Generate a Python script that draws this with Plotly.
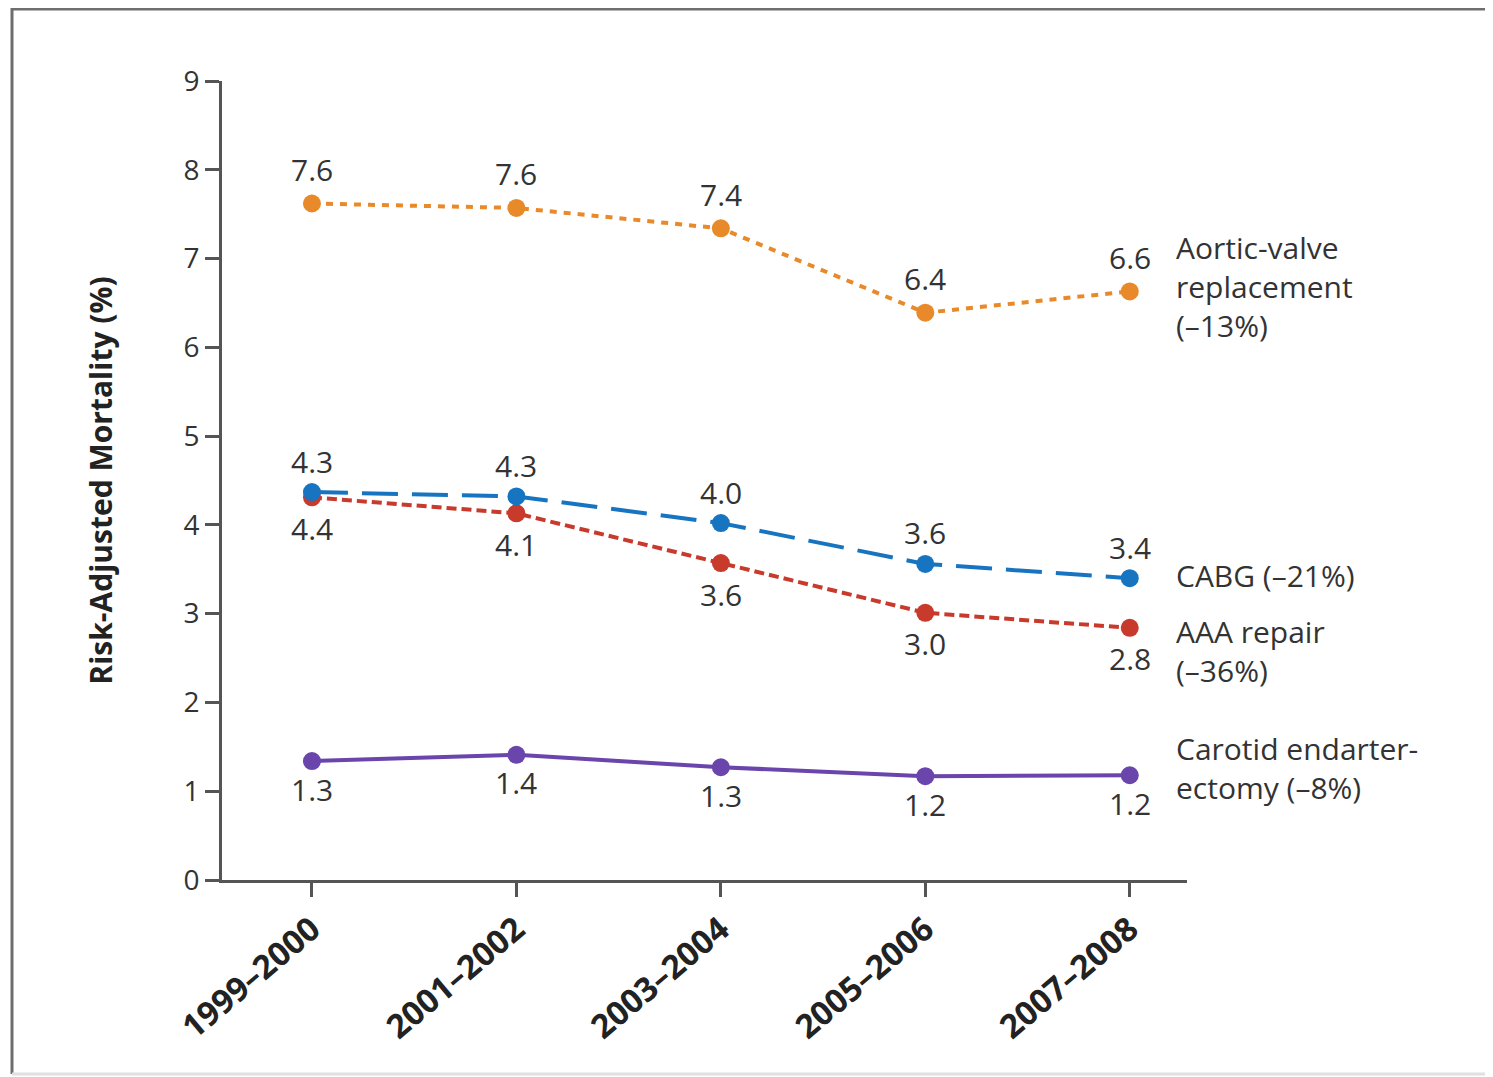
import plotly.graph_objects as go

categories = ["1999–2000", "2001–2002", "2003–2004", "2005–2006", "2007–2008"]

aortic = [7.62, 7.57, 7.34, 6.39, 6.63]
cabg = [4.37, 4.32, 4.02, 3.56, 3.40]
aaa = [4.31, 4.13, 3.57, 3.01, 2.84]
carotid = [1.34, 1.41, 1.27, 1.17, 1.18]

aortic_labels = ["7.6", "7.6", "7.4", "6.4", "6.6"]
cabg_labels = ["4.3", "4.3", "4.0", "3.6", "3.4"]
aaa_labels = ["4.4", "4.1", "3.6", "3.0", "2.8"]
carotid_labels = ["1.3", "1.4", "1.3", "1.2", "1.2"]

series_names = ["Aortic-valve<br>replacement<br>(–13%)", "CABG (–21%)",
                "AAA repair<br>(–36%)", "Carotid endarter-<br>ectomy (–8%)"]
name_y = [6.68, 3.43, 2.58, 1.26]

y_ticks = [0, 1, 2, 3, 4, 5, 6, 7, 8, 9]

FONT = "Open Sans"
TXT = "#333333"

series = [
    # values, labels, color, dash, label shift, name index
    (carotid, carotid_labels, "#6A45AC", "solid", -28, 3),
    (aaa, aaa_labels, "#C73A2C", "10px,5px", -31, 2),
    (cabg, cabg_labels, "#1774C0", "36px,14px", 31, 1),
    (aortic, aortic_labels, "#E8892A", "7px,7px", 34, 0),
]

fig = go.Figure()
for vals, labs, col, dash, shift, ni in series:
    fig.add_trace(go.Scatter(
        x=categories, y=vals, mode="lines+markers",
        line=dict(color=col, width=4, dash=dash),
        marker=dict(color=col, size=18),
        cliponaxis=False, showlegend=False, hoverinfo="skip"))
    for c, v, t in zip(categories, vals, labs):
        fig.add_annotation(x=c, y=v, text=t, showarrow=False, yshift=shift,
                           font=dict(family=FONT, size=30, color=TXT))
    fig.add_annotation(x=categories[-1], y=name_y[ni], text=series_names[ni],
                       showarrow=False, xanchor="left", yanchor="middle", align="left",
                       xshift=44, font=dict(family=FONT, size=30, color=TXT))

# layout geometry (figure coords; page adds an 8px body offset)
W, H = 1485, 1069
pl, pr, pt, pb = 214, 1179, 73, 872
L, R, T, B = 4, 1483, 0, 1066
def px(x): return (x - pl) / (pr - pl)
def py(y): return (pb - y) / (pb - pt)
for (x0, y0, x1, y1, c) in [(L, T + 1, R, T + 1, "#6e6e6e"), (L, T, L, B, "#6e6e6e"),
                            (R, T, R, B, "#d8d8d8"), (L, B, R, B, "#e0e0e0")]:
    fig.add_shape(type="line", xref="paper", yref="paper",
                  x0=px(x0), y0=py(y0), x1=px(x1), y1=py(y1),
                  line=dict(color=c, width=3))

fig.update_layout(
    width=W, height=H,
    margin=dict(l=pl, r=W - pr, t=pt, b=H - pb),
    paper_bgcolor="white", plot_bgcolor="white",
    font=dict(family=FONT, color=TXT),
    xaxis=dict(type="category", range=[-0.44, 4.28], showgrid=False, zeroline=False,
               showline=True, linecolor="#555555", linewidth=3,
               ticks="outside", ticklen=14, tickwidth=3, tickcolor="#555555",
               tickangle=-40, tickfont=dict(family=FONT, size=33, color="#222222", weight="bold")),
    yaxis=dict(range=[0, 9], tickvals=y_ticks, showgrid=False, zeroline=False,
               showline=True, linecolor="#555555", linewidth=3,
               ticks="outside", ticklen=14, tickwidth=3, tickcolor="#555555",
               tickfont=dict(family=FONT, size=28, color=TXT),
               title=dict(text="Risk-Adjusted Mortality (%)", standoff=62,
                          font=dict(family=FONT, size=30, color="#222222", weight="bold"))),
)

fig.write_html("out.html")
